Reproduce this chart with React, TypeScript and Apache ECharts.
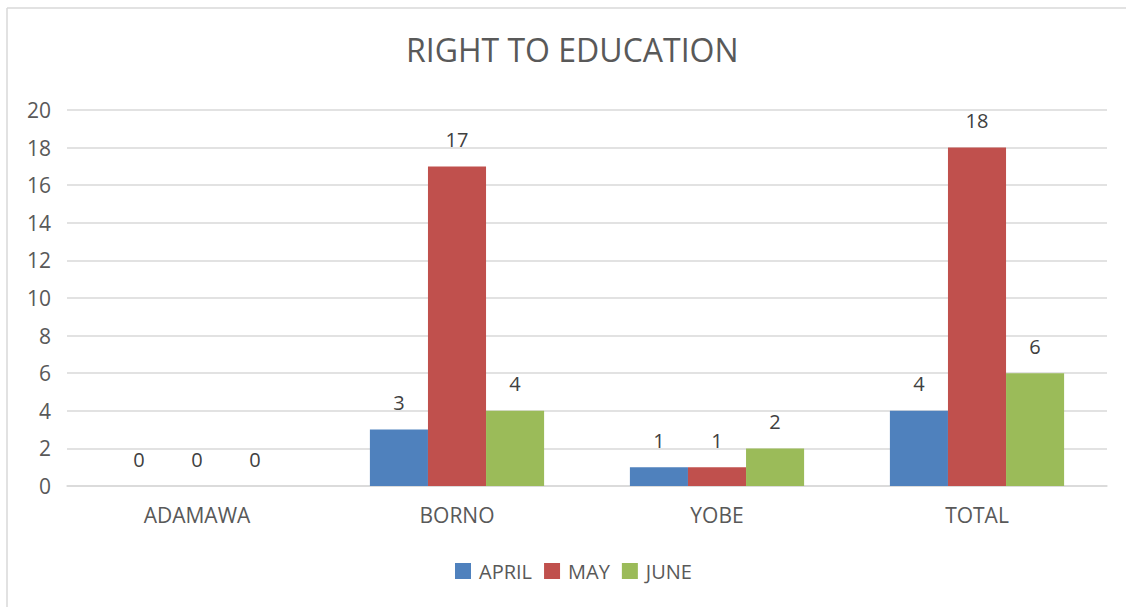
import React, { useEffect, useRef } from "react";
import * as echarts from "echarts";

const categories = ["ADAMAWA", "BORNO", "YOBE", "TOTAL"];
const april = [0, 3, 1, 4];
const may = [0, 17, 1, 18];
const june = [0, 4, 2, 6];
const seriesNames = ["APRIL", "MAY", "JUNE"];
const colors = ["#4F81BD", "#C0504D", "#9BBB59"];

export default function App() {
  const ref = useRef<HTMLDivElement>(null);
  useEffect(() => {
    document.body.style.margin = "0";
    const chart = echarts.init(ref.current!, null, { renderer: "svg" });
    const font = "'Open Sans', 'Noto Sans', sans-serif";
    const label = {
      show: true,
      position: "top" as const,
      distance: 17,
      color: "#404040",
      fontSize: 20,
      fontFamily: font,
    };
    const datasets = [april, may, june];
    chart.setOption({
      animation: false,
      backgroundColor: "#ffffff",
      title: {
        text: "RIGHT TO EDUCATION",
        left: 401,
        top: 28,
        textStyle: { color: "#595959", fontSize: 32, fontWeight: "normal", fontFamily: font },
      },
      legend: {
        bottom: 21,
        left: 450,
        itemWidth: 16,
        itemHeight: 16,
        itemGap: 12,
        icon: "rect",
        textStyle: { color: "#595959", fontSize: 20, fontFamily: font, padding: [0, 0, 0, 3] },
        data: seriesNames,
      },
      grid: { left: 67, right: 19, top: 110, bottom: 121, containLabel: false },
      xAxis: {
        type: "category",
        data: categories,
        axisLine: { show: true, lineStyle: { color: "#D9D9D9", width: 1.5 } },
        axisTick: { show: false },
        axisLabel: { color: "#595959", fontSize: 21, fontFamily: font, margin: 18 },
      },
      yAxis: {
        type: "value",
        min: 0,
        max: 20,
        interval: 2,
        axisLine: { show: false },
        axisTick: { show: false },
        axisLabel: { color: "#595959", fontSize: 21, fontFamily: font, margin: 16 },
        splitLine: { lineStyle: { color: "#D9D9D9", width: 1.5 } },
      },
      series: seriesNames.map((name, i) => ({
        name,
        type: "bar",
        data: datasets[i],
        itemStyle: { color: colors[i] },
        barGap: "0%",
        barCategoryGap: "33%",
        label,
      })),
      graphic: [
        { type: "line", shape: { x1: 7, y1: 8, x2: 1126, y2: 8 }, style: { stroke: "#D9D9D9", lineWidth: 1.5 } },
        { type: "line", shape: { x1: 7, y1: 8, x2: 7, y2: 607 }, style: { stroke: "#D9D9D9", lineWidth: 1.5 } },
      ],
    });
    return () => chart.dispose();
  }, []);
  return <div ref={ref} style={{ width: 1126, height: 607 }} />;
}
